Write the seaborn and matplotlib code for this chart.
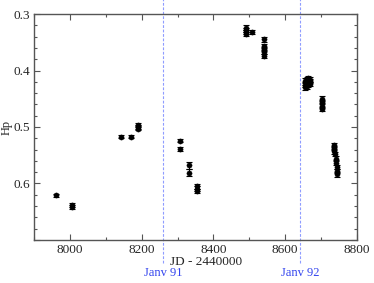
import matplotlib
matplotlib.use("Agg")
import numpy as np
import pandas as pd
import seaborn as sns
from matplotlib import pyplot as plt
from matplotlib.ticker import MultipleLocator, FuncFormatter

sns.set_style("ticks")
plt.rcParams['font.family'] = ['Liberation Serif', 'DejaVu Serif']

# Hipparcos photometry: JD - 2440000, Hp magnitude, error
jd = [7960, 8005, 8005,
      8142, 8170, 8190, 8190, 8190,
      8307, 8307, 8331, 8331, 8355, 8355, 8355,
      8490, 8490, 8490, 8490, 8508,
      8540, 8540, 8540, 8540, 8540,
      8655, 8655, 8655, 8660, 8660, 8660, 8665, 8665, 8665, 8670, 8670, 8670,
      8703, 8703, 8703, 8703,
      8737, 8737, 8737, 8740, 8743, 8743, 8745, 8745, 8745]
hp = [0.621, 0.638, 0.642,
      0.517, 0.517, 0.496, 0.500, 0.503,
      0.524, 0.539, 0.568, 0.581, 0.605, 0.609, 0.613,
      0.324, 0.328, 0.332, 0.335, 0.332,
      0.345, 0.357, 0.362, 0.367, 0.374,
      0.418, 0.425, 0.430, 0.415, 0.422, 0.428, 0.413, 0.420, 0.426, 0.416, 0.419, 0.424,
      0.450, 0.456, 0.462, 0.468,
      0.532, 0.537, 0.543, 0.548, 0.556, 0.563, 0.571, 0.578, 0.584]
hp_err = [0.003, 0.004, 0.004,
          0.002, 0.003, 0.003, 0.003, 0.003,
          0.003, 0.003, 0.006, 0.006, 0.004, 0.004, 0.004,
          0.004, 0.004, 0.004, 0.004, 0.003,
          0.004, 0.004, 0.004, 0.004, 0.004,
          0.004, 0.004, 0.004, 0.004, 0.004, 0.004, 0.004, 0.004, 0.004, 0.004, 0.004, 0.004,
          0.004, 0.004, 0.004, 0.004,
          0.004, 0.004, 0.004, 0.004, 0.004, 0.004, 0.004, 0.004, 0.004]

# year boundaries (JD - 2440000)
year_jd = [8260, 8643]
year_labels = ["Janv 91", "Janv 92"]

df = pd.DataFrame({"jd": jd, "hp": hp, "err": hp_err})

fig = plt.figure(figsize=(3.74, 2.83), dpi=100)
ax = fig.add_axes([0.0917, 0.152, 0.862, 0.7985])

ax.errorbar(df.jd, df.hp, yerr=df.err, fmt="none", ecolor="black",
            elinewidth=0.8, capsize=2.5, capthick=0.8, zorder=2)
sns.scatterplot(data=df, x="jd", y="hp", color="black", s=14, edgecolor="black",
                linewidth=0.3, ax=ax, zorder=3)

ax.set_xlim(7900, 8800)
ax.set_ylim(0.7, 0.3)
ax.xaxis.set_major_locator(MultipleLocator(200))
ax.xaxis.set_minor_locator(MultipleLocator(100))
ax.yaxis.set_major_locator(MultipleLocator(0.1))
ax.yaxis.set_minor_locator(MultipleLocator(0.02))
ax.yaxis.set_major_formatter(FuncFormatter(lambda v, p: "" if v > 0.65 else f"{v:.1f}"))
ax.tick_params(which="both", direction="in", top=True, right=True,
               color="#555555", labelsize=9.5, pad=3)
ax.tick_params(which="major", length=4, width=0.8)
ax.tick_params(which="minor", length=2, width=0.8)
for sp in ax.spines.values():
    sp.set_color("#555555")
    sp.set_linewidth(1.0)

ax.set_xlabel("JD - 2440000", fontsize=9.5)
ax.xaxis.set_label_coords(0.533, -0.07)
ax.set_ylabel("Hp", fontsize=9)
ax.yaxis.set_label_coords(-0.067, 0.5)

for x, lab in zip(year_jd, year_labels):
    ax.axvline(x, ymin=-0.1, ymax=1.07, color="#8f9cff", linestyle=(0, (2.5, 1.5)),
               linewidth=0.8, clip_on=False, zorder=1)
    ax.text(x, -0.145, lab, transform=ax.get_xaxis_transform(), ha="center",
            va="center", color="#3344ee", fontsize=9)

fig.savefig("out.png", dpi=100)
